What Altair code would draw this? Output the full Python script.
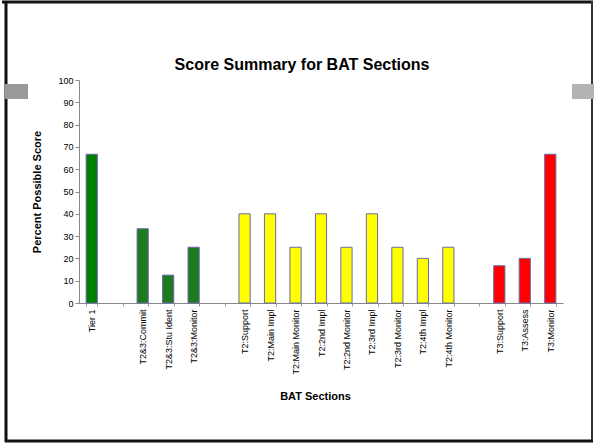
import altair as alt
import pandas as pd

categories = ["Tier 1", " ", "T2&3:Commit", "T2&3:Stu Ident", "T2&3:Monitor", "  ",
              "T2:Support", "T2:Main Impl", "T2:Main  Monitor", "T2:2nd Impl", "T2:2nd  Monitor",
              "T2:3rd Impl", "T2:3rd  Monitor", "T2:4th Impl", "T2:4th  Monitor", "   ",
              "T3:Support", "T3:Assess", "T3:Monitor"]
values = [66.7, None, 33.3, 12.5, 25, None,
          40, 40, 25, 40, 25, 40, 25, 20, 25, None,
          16.7, 20, 66.7]
groups = ["Tier 1", "gap", "Tier 2&3", "Tier 2&3", "Tier 2&3", "gap",
          "Tier 2", "Tier 2", "Tier 2", "Tier 2", "Tier 2", "Tier 2", "Tier 2", "Tier 2", "Tier 2", "gap",
          "Tier 3", "Tier 3", "Tier 3"]
group_names = ["Tier 1", "Tier 2&3", "Tier 2", "Tier 3"]
group_colors = ["#008000", "#1e7a1e", "#ffff00", "#ff0000"]
chart_title = "Score Summary for BAT Sections"

df = pd.DataFrame({"section": categories, "score": values, "group": groups})
bars_df = df[df["score"].notna()]

FONT = "Liberation Sans"

bars = alt.Chart(bars_df).mark_bar(stroke="#6a6aa8", strokeWidth=1).encode(
    x=alt.X("section:N", sort=categories,
            scale=alt.Scale(domain=categories, paddingInner=0.56, paddingOuter=0.28),
            axis=alt.Axis(title="BAT Sections", labelAngle=-90, labelAlign="right",
                          labelBaseline="middle", labelFontSize=9, labelFont=FONT,
                          labelColor="#000000", labelPadding=3,
                          tickBand="extent", tickSize=3, tickColor="#999999",
                          domainColor="#888888", titleFont=FONT, titleFontSize=11,
                          titleFontWeight="bold", titleX=236, titleY=93,
                          titleBaseline="middle", titleAlign="center")),
    y=alt.Y("score:Q", scale=alt.Scale(domain=[0, 100]),
            axis=alt.Axis(title="Percent Possible Score", values=list(range(0, 101, 10)),
                          grid=False, tickSize=4, tickColor="#888888", domainColor="#888888",
                          labelFontSize=9, labelFont=FONT, labelColor="#000000", labelPadding=2,
                          titleFont=FONT, titleFontSize=11, titleFontWeight="bold",
                          titleX=-42, titleY=111.5, titleAngle=-90,
                          titleAlign="center", titleBaseline="middle")),
    color=alt.Color("group:N", scale=alt.Scale(domain=group_names, range=group_colors), legend=None),
)

dummy = pd.DataFrame({"a": [0]})
frame_color = "#111111"
title_text = alt.Chart(dummy).mark_text(font=FONT, fontSize=16, fontWeight="bold", color="#000000",
                                         align="center", baseline="alphabetic").encode(
    text=alt.value(chart_title), x=alt.value(223), y=alt.value(-10.5))
top = alt.Chart(dummy).mark_rule(color=frame_color, strokeWidth=3).encode(
    x=alt.value(-77), x2=alt.value(514), y=alt.value(-78))
left = alt.Chart(dummy).mark_rule(color=frame_color, strokeWidth=3).encode(
    x=alt.value(-73), y=alt.value(-79), y2=alt.value(362))
right = alt.Chart(dummy).mark_rule(color="#333333", strokeWidth=2).encode(
    x=alt.value(513), y=alt.value(-79), y2=alt.value(362))
bottom = alt.Chart(dummy).mark_rule(color=frame_color, strokeWidth=3).encode(
    x=alt.value(-74), x2=alt.value(514), y=alt.value(361))
lrect = alt.Chart(dummy).mark_rect(color="#999999").encode(
    x=alt.value(-74), x2=alt.value(-51), y=alt.value(4), y2=alt.value(19))
rrect = alt.Chart(dummy).mark_rect(color="#b3b3b3").encode(
    x=alt.value(493), x2=alt.value(515), y=alt.value(4), y2=alt.value(19))

chart = alt.layer(bars, title_text, top, left, right, bottom, lrect, rrect).properties(
    width=484, height=223,
    autosize=alt.AutoSizeParams(type="none"),
    padding={"left": 79, "top": 80, "right": 31, "bottom": 141},
    background="white",
).configure_view(stroke=None)

chart.save("out.html", embed_options={"renderer": "svg", "actions": False})
